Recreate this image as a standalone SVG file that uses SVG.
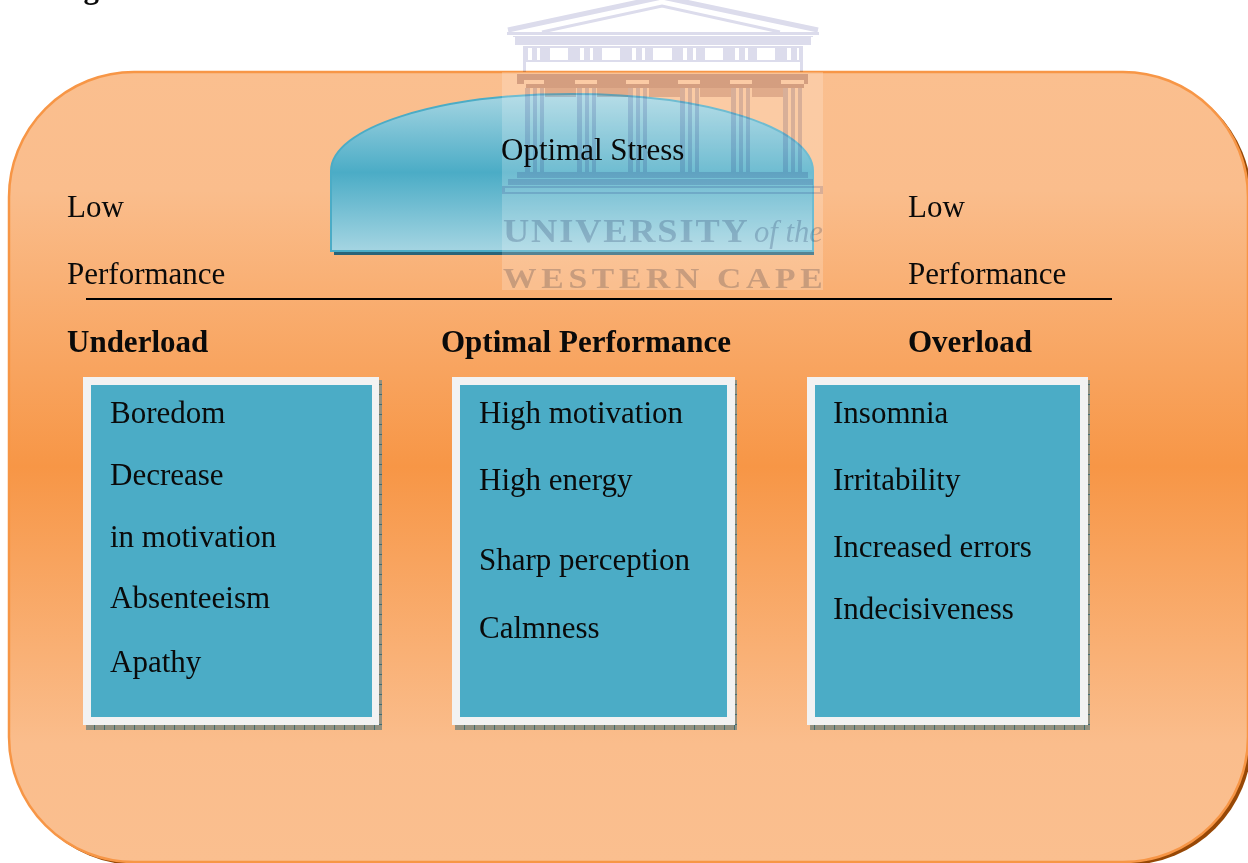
<svg xmlns="http://www.w3.org/2000/svg" width="1248" height="863" viewBox="0 0 1248 863">
<style>
text{font-family:"Liberation Serif","Times New Roman",serif;font-size:31px;fill:#0a0a0a}
.b{font-weight:700}
.frame{fill:#f2f2f2}
.inner{fill:#4bacc6}
.wm{fill:#dcdcec}
.wd{fill:#d8c6c6}
.ws{fill:none;stroke:#dcdcec}
.wt{font-weight:700;fill:#ccd0dc}
#building{mix-blend-mode:multiply}
</style>
<defs>
<linearGradient id="og" x1="0" y1="0" x2="0" y2="1">
<stop offset="0" stop-color="#fabf8f"/><stop offset=".15" stop-color="#fabd8c"/><stop offset=".5" stop-color="#f79646"/><stop offset=".85" stop-color="#fabd8c"/><stop offset="1" stop-color="#fabf8f"/>
</linearGradient>
<linearGradient id="bg" x1="0" y1="0" x2="0" y2="1">
<stop offset="0" stop-color="#a5d5e2"/><stop offset=".5" stop-color="#4bacc6"/><stop offset="1" stop-color="#a5d5e2"/>
</linearGradient>
<pattern id="hatch" width="10" height="10" patternUnits="userSpaceOnUse">
<rect width="10" height="10" fill="#93907f"/><rect x="4" width="1" height="10" fill="#3f6d73"/><rect y="4" width="10" height="1" fill="#3f6d73"/>
</pattern>
<g id="col"><rect x="0" y="0" width="5" height="84"/><rect x="8" y="0" width="4" height="84"/><rect x="15" y="0" width="4" height="84"/></g>
</defs>
<text class="b" x="56" y="-2">Fig</text>
<g id="panel">
<rect x="12" y="75" width="1240" height="790" rx="125" fill="#974806"/>
<rect x="9" y="72" width="1239" height="790" rx="125" fill="url(#og)" stroke="#f79646" stroke-width="2.5"/>
</g>
<g id="optimal-stress">
<rect x="334" y="248" width="480" height="7" fill="#2a6478"/>
<path d="M331 251V171C331 128 437 94 572 94C707 94 813 128 813 171V251Z" fill="url(#bg)" stroke="#4bacc6" stroke-width="2"/>
</g>
<g id="watermark">
<rect x="502" y="72" width="321" height="218" fill="#fff" opacity=".2"/>
<g id="building">
<path class="ws" stroke-width="5" d="M508 30L662 -3L818 30"/>
<path class="ws" stroke-width="3" d="M542 32L662 6L780 32"/>
<path class="wm" d="M507 32H819V35H507ZM513 36H813V37H811V45H515V37H513Z"/>
<path class="wm" fill-rule="evenodd" d="M523 46H803V62H523Z M550 48V60H568V48Z M602 48V60H620V48Z M653 48V60H672V48Z M705 48V60H723V48Z M757 48V60H775V48Z M528 48V60H532V48Z M537 48V60H540V48Z M580 48V60H584V48Z M590 48V60H593V48Z M632 48V60H636V48Z M642 48V60H645V48Z M683 48V60H687V48Z M693 48V60H696V48Z M735 48V60H739V48Z M745 48V60H748V48Z M787 48V60H791V48Z M797 48V60H799V48Z"/>
<path class="wm" d="M523 62H526V72H523ZM800 62H803V72H800Z"/>
<path class="wd" fill-rule="evenodd" d="M517 74H808V84H804V88H526V84H517Z M524 80V84H544V80Z M575 80V84H597V80Z M626 80V84H649V80Z M678 80V84H700V80Z M730 80V84H752V80Z M781 80V84H804V80Z"/>
<path class="wd" d="M545 88H576V97H545ZM597 88H628V97H597ZM649 88H680V97H649ZM700 88H731V97H700ZM752 88H783V97H752Z" opacity=".7"/>
<g class="wm"><use href="#col" x="525" y="88"/><use href="#col" x="577" y="88"/><use href="#col" x="628" y="88"/><use href="#col" x="680" y="88"/><use href="#col" x="731" y="88"/><use href="#col" x="783" y="88"/></g>
<path class="wm" d="M517 172H808V178H517ZM508 179H813V185H508ZM502 186H823V194H502ZM505 188V192H820V188Z" fill-rule="evenodd"/>
<text class="wt" transform="translate(503 242) scale(1.1 1)" style="font-size:33px;letter-spacing:1.7px">UNIVERSITY</text>
<text class="wt" x="754" y="242" textLength="69" lengthAdjust="spacingAndGlyphs" style="font-size:31px;font-style:italic;font-weight:400">of the</text>
<text class="wt" transform="translate(503 288) scale(1.12 1)" style="font-size:30px;letter-spacing:4.2px">WESTERN CAPE</text>
</g>
</g>
<g id="optimal-stress-label"><text x="501" y="160">Optimal Stress</text></g>
<g id="low-left"><text x="67" y="217">Low</text><text x="67" y="284">Performance</text></g>
<g id="low-right"><text x="908" y="217">Low</text><text x="908" y="284">Performance</text></g>
<g id="connectors"><line x1="86" y1="299" x2="1112" y2="299" stroke="#000" stroke-width="2"/></g>
<g id="underload">
<text class="b" x="67" y="352">Underload</text>
<rect x="86" y="380" width="296" height="350" fill="url(#hatch)"/>
<rect class="frame" x="83" y="377" width="296" height="348"/>
<rect class="inner" x="91" y="385" width="281" height="332"/>
<text x="110" y="423">Boredom</text><text x="110" y="485">Decrease</text><text x="110" y="547">in motivation</text><text x="110" y="608">Absenteeism</text><text x="110" y="672">Apathy</text>
</g>
<g id="optimal-performance">
<text class="b" x="441" y="352">Optimal Performance</text>
<rect x="455" y="380" width="282" height="350" fill="url(#hatch)"/>
<rect class="frame" x="452" y="377" width="283" height="348"/>
<rect class="inner" x="460" y="385" width="267" height="332"/>
<text x="479" y="423">High motivation</text><text x="479" y="490">High energy</text><text x="479" y="570">Sharp perception</text><text x="479" y="638">Calmness</text>
</g>
<g id="overload">
<text class="b" x="908" y="352">Overload</text>
<rect x="810" y="380" width="280" height="350" fill="url(#hatch)"/>
<rect class="frame" x="807" y="377" width="281" height="348"/>
<rect class="inner" x="815" y="385" width="265" height="332"/>
<text x="833" y="423">Insomnia</text><text x="833" y="490">Irritability</text><text x="833" y="557">Increased errors</text><text x="833" y="619">Indecisiveness</text>
</g>
</svg>
